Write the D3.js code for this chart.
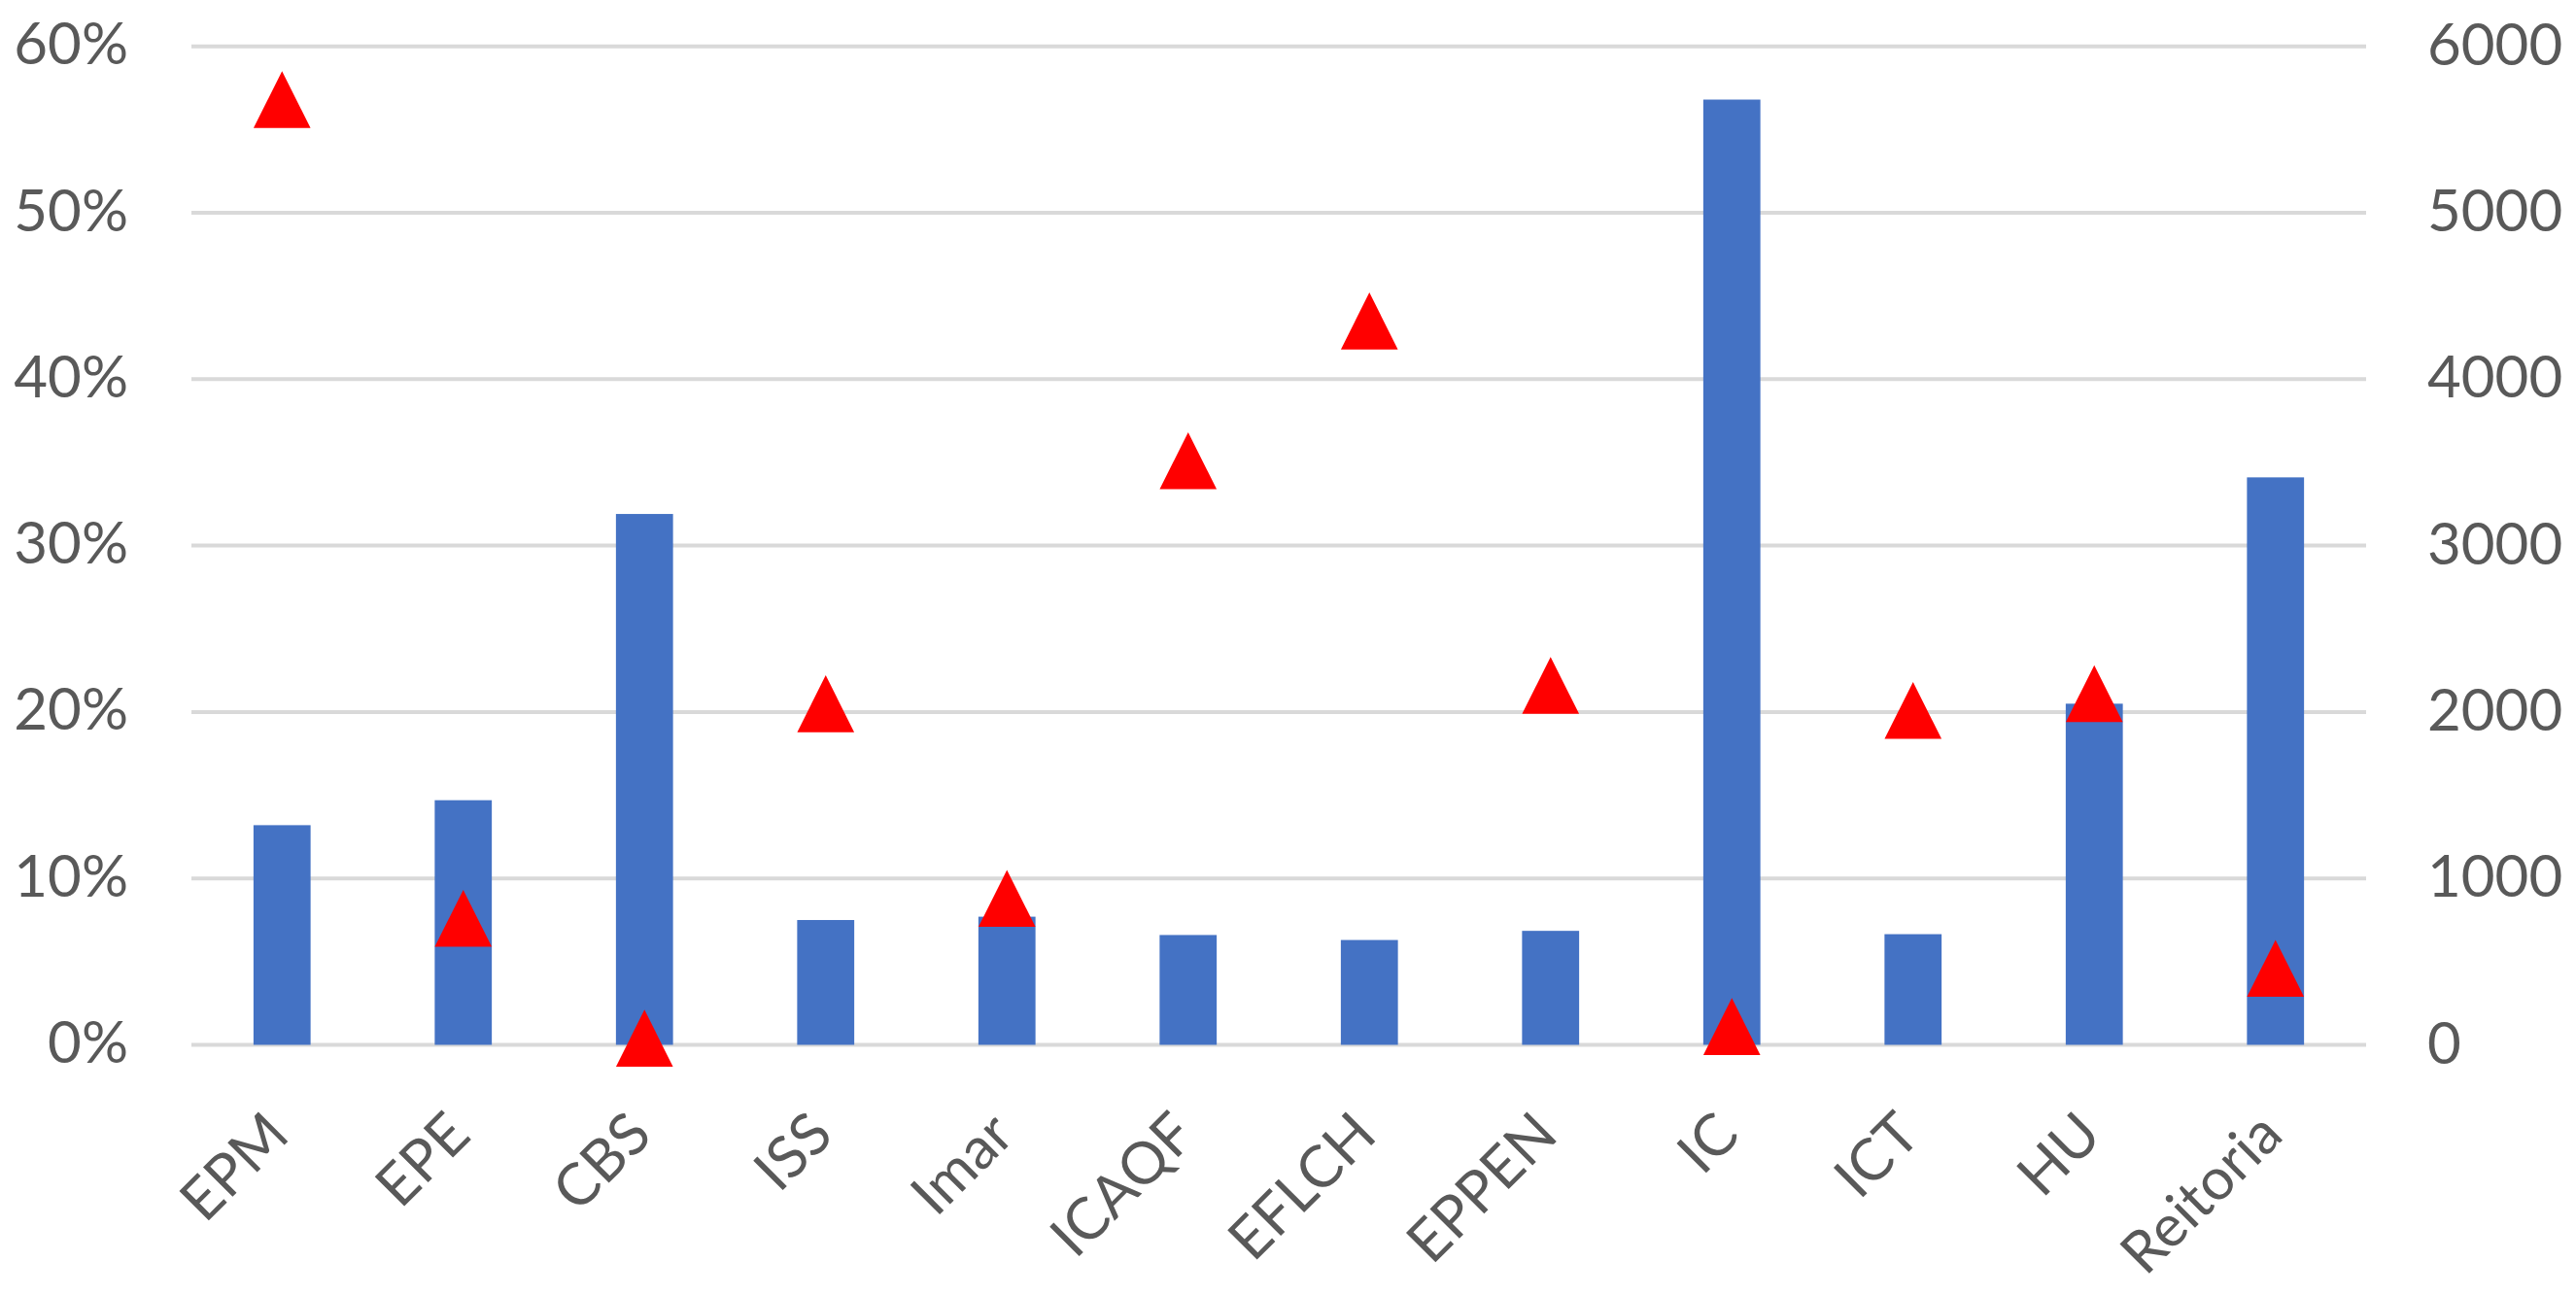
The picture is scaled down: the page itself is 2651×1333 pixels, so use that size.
<!DOCTYPE html>
<html>
<head>
<meta charset="utf-8">
<script src="https://cdn.jsdelivr.net/npm/d3@7"></script>
<style>
  html, body { margin: 0; padding: 0; background: #fff; }
  svg { display: block; }
  text { font-family: Lato, "Open Sans", sans-serif; fill: #595959; }
</style>
</head>
<body>
<svg id="chart" width="2651" height="1333"></svg>
<script>
const categories = ["EPM", "EPE", "CBS", "ISS", "Imar", "ICAQF", "EFLCH", "EPPEN", "IC", "ICT", "HU", "Reitoria"];
const barValues = [1320, 1470, 3190, 750, 770, 660, 630, 685, 5680, 665, 2050, 3410];
const pctValues = [0.568, 0.076, 0.004, 0.205, 0.088, 0.351, 0.435, 0.216, 0.011, 0.201, 0.211, 0.046];
const leftTicks = [0, 0.1, 0.2, 0.3, 0.4, 0.5, 0.6];
const rightTicks = [0, 1000, 2000, 3000, 4000, 5000, 6000];

const svg = d3.select("#chart");
const W = 2651, H = 1333;
const plot = { left: 197, right: 2435, top: 47.7, bottom: 1075.5 };

const x = d3.scaleBand().domain(categories).range([plot.left, plot.right]).paddingInner(0).paddingOuter(0);
const yL = d3.scaleLinear().domain([0, 0.6]).range([plot.bottom, plot.top]);
const yR = d3.scaleLinear().domain([0, 6000]).range([plot.bottom, plot.top]);

// gridlines
svg.append("g").selectAll("line").data(leftTicks).join("line")
  .attr("x1", plot.left).attr("x2", plot.right)
  .attr("y1", d => yL(d)).attr("y2", d => yL(d))
  .attr("stroke", "#d9d9d9").attr("stroke-width", 4);

// left axis
const leftAxis = d3.axisLeft(yL).tickValues(leftTicks).tickFormat(d3.format(".0%")).tickSize(0).tickPadding(0);
const gL = svg.append("g").attr("transform", "translate(132,0)").call(leftAxis);
gL.select(".domain").remove();
gL.selectAll("text").attr("font-size", 60).attr("font-family", "Lato, sans-serif").attr("fill", "#595959")
  .attr("dy", null).attr("y", 18).attr("x", 0).attr("text-anchor", "end");

// right axis
const rightAxis = d3.axisRight(yR).tickValues(rightTicks).tickFormat(d3.format("d")).tickSize(0).tickPadding(0);
const gR = svg.append("g").attr("transform", "translate(2498,0)").call(rightAxis);
gR.select(".domain").remove();
gR.selectAll("text").attr("font-size", 60).attr("font-family", "Lato, sans-serif").attr("fill", "#595959")
  .attr("dy", null).attr("y", 18.5).attr("x", 0).attr("text-anchor", "start");

// bars
const barW = x.bandwidth() * 0.315;
svg.append("g").selectAll("rect").data(categories).join("rect")
  .attr("x", (d) => x(d) + x.bandwidth() / 2 - barW / 2)
  .attr("width", barW)
  .attr("y", (d, i) => yR(barValues[i]))
  .attr("height", (d, i) => yR(0) - yR(barValues[i]))
  .attr("fill", "#4472c4");

// triangle markers
const tri = 29.3;
svg.append("g").selectAll("path").data(categories).join("path")
  .attr("d", (d, i) => {
    const cx = x(d) + x.bandwidth() / 2, cy = yL(pctValues[i]);
    return `M${cx},${cy - tri}L${cx + tri},${cy + tri}L${cx - tri},${cy + tri}Z`;
  })
  .attr("fill", "#ff0000");

// x labels
const xAxis = d3.axisBottom(x).tickSize(0).tickPadding(0);
const gX = svg.append("g").attr("transform", "translate(0,0)").call(xAxis);
gX.select(".domain").remove();
gX.selectAll(".tick").attr("transform", d => `translate(${x(d) + x.bandwidth() / 2 + 10},1171)`);
gX.selectAll("text").attr("font-size", 60).attr("font-family", "Lato, sans-serif").attr("fill", "#595959")
  .attr("dy", null).attr("y", 0).attr("x", 0)
  .attr("text-anchor", "end").attr("transform", "rotate(-45)");
</script>
</body>
</html>
